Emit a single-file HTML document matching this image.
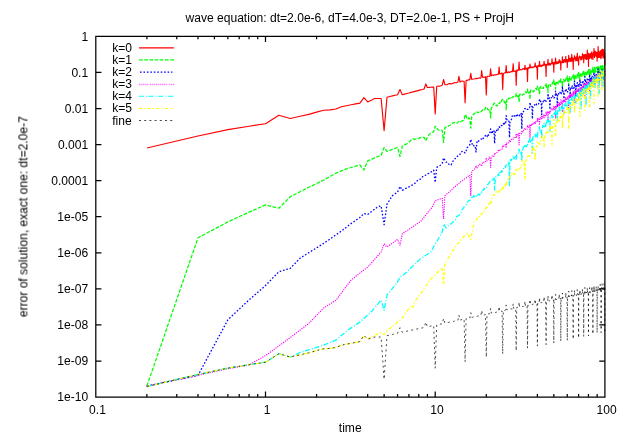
<!DOCTYPE html>
<html><head><meta charset="utf-8"><title>wave equation error plot</title>
<style>html,body{margin:0;padding:0;background:#fff;}body{width:623px;height:436px;overflow:hidden;position:relative;font-family:"Liberation Sans",sans-serif;}</style>
</head><body>
<svg width="623" height="436" viewBox="0 0 623 436" style="position:absolute;left:0;top:0">
<defs><filter id="soft" x="0" y="0" width="623" height="436" filterUnits="userSpaceOnUse" color-interpolation-filters="sRGB"><feConvolveMatrix order="3" kernelMatrix="0.025 0.1 0.025 0.1 0.5 0.1 0.025 0.1 0.025" edgeMode="none" preserveAlpha="false"/></filter><filter id="txt" x="0" y="0" width="623" height="436" filterUnits="userSpaceOnUse" color-interpolation-filters="sRGB"><feOffset dx="0" dy="0"/></filter></defs>
<rect width="623" height="436" fill="#fff"/>
<path d="M605.5 36.35 L95.8 36.35 L95.8 397.1 L605.5 397.1 M146.88 397.1 v-3.0 M146.88 36.35 v3.0 M176.77 397.1 v-3.0 M176.77 36.35 v3.0 M197.97 397.1 v-3.0 M197.97 36.35 v3.0 M214.42 397.1 v-3.0 M214.42 36.35 v3.0 M227.85 397.1 v-3.0 M227.85 36.35 v3.0 M239.21 397.1 v-3.0 M239.21 36.35 v3.0 M249.05 397.1 v-3.0 M249.05 36.35 v3.0 M257.73 397.1 v-3.0 M257.73 36.35 v3.0 M265.50 397.1 v-5.6 M265.50 36.35 v5.6 M316.58 397.1 v-3.0 M316.58 36.35 v3.0 M346.47 397.1 v-3.0 M346.47 36.35 v3.0 M367.67 397.1 v-3.0 M367.67 36.35 v3.0 M384.12 397.1 v-3.0 M384.12 36.35 v3.0 M397.55 397.1 v-3.0 M397.55 36.35 v3.0 M408.91 397.1 v-3.0 M408.91 36.35 v3.0 M418.75 397.1 v-3.0 M418.75 36.35 v3.0 M427.43 397.1 v-3.0 M427.43 36.35 v3.0 M435.20 397.1 v-5.6 M435.20 36.35 v5.6 M486.28 397.1 v-3.0 M486.28 36.35 v3.0 M516.17 397.1 v-3.0 M516.17 36.35 v3.0 M537.37 397.1 v-3.0 M537.37 36.35 v3.0 M553.82 397.1 v-3.0 M553.82 36.35 v3.0 M567.25 397.1 v-3.0 M567.25 36.35 v3.0 M578.61 397.1 v-3.0 M578.61 36.35 v3.0 M588.45 397.1 v-3.0 M588.45 36.35 v3.0 M597.13 397.1 v-3.0 M597.13 36.35 v3.0 M95.8 72.43 h5.6 M604.9 72.43 h-5.6 M95.8 108.50 h5.6 M604.9 108.50 h-5.6 M95.8 144.58 h5.6 M604.9 144.58 h-5.6 M95.8 180.65 h5.6 M604.9 180.65 h-5.6 M95.8 216.72 h5.6 M604.9 216.72 h-5.6 M95.8 252.80 h5.6 M604.9 252.80 h-5.6 M95.8 288.88 h5.6 M604.9 288.88 h-5.6 M95.8 324.95 h5.6 M604.9 324.95 h-5.6 M95.8 361.03 h5.6 M604.9 361.03 h-5.6" fill="none" stroke="#000" stroke-width="1.25"/>
<g fill="none" stroke-linejoin="round" stroke-linecap="butt">
<path d="M146.9 148.0 L198.0 136.0 L227.9 129.6 L249.1 126.2 L265.5 123.7 L278.9 115.2 L290.3 118.5 L300.1 116.3 L308.8 114.4 L316.6 112.1 L323.6 110.3 L330.0 109.9 L335.9 109.0 L341.4 106.7 L346.5 105.7 L351.2 104.8 L355.7 103.9 L359.9 103.1 L363.9 97.7 L367.7 101.9 L371.3 100.2 L374.7 98.5 L378.0 98.5 L381.1 98.5 L384.1 130.6 L387.0 97.2 L389.8 96.5 L392.5 95.9 L395.1 95.3 L397.6 94.7 L400.0 89.5 L402.3 94.7 L404.6 94.1 L406.8 93.5 L408.9 93.0 L411.0 92.4 L413.0 91.9 L415.0 91.4 L416.9 90.9 L418.8 90.4 L420.6 89.9 L422.4 89.5 L424.1 89.0 L425.8 83.9 L427.4 87.5 L429.1 87.4 L430.6 87.2 L432.2 87.1 L433.7 87.0 L435.2 113.9 L436.7 86.5 L438.1 86.0 L439.5 86.2 L440.9 85.8 L442.2 85.2 L443.6 79.5 L444.9 84.8 L446.1 84.7 L447.4 84.6 L448.6 83.8 L449.9 83.6 L451.1 83.9 L452.2 83.4 L453.4 83.3 L454.5 82.6 L455.7 82.7 L456.8 82.6 L457.9 82.1 L458.9 76.4 L460.0 82.1 L461.0 81.3 L462.1 81.1 L463.1 81.3 L464.1 81.4 L465.1 102.8 L466.1 80.4 L467.0 80.4 L468.0 79.9 L468.9 79.9 L469.8 79.8 L470.8 73.4 L471.7 79.3 L472.6 79.2 L473.4 79.0 L474.3 79.0 L475.2 78.7 L476.0 78.3 L476.9 78.8 L477.7 78.4 L478.5 78.3 L479.3 77.8 L480.1 78.2 L480.9 78.0 L481.7 70.6 L482.5 77.2 L483.3 77.4 L484.0 77.2 L484.8 77.3 L485.5 76.7 L486.3 94.9 L487.0 76.6 L487.7 76.2 L488.5 76.3 L489.2 76.4 L489.9 76.2 L490.6 68.9 L491.3 75.7 L492.0 75.1 L492.6 75.1 L493.3 75.5 L494.0 75.0 L494.6 74.7 L495.3 74.9 L495.9 74.9 L496.6 74.7 L497.2 74.3 L497.9 74.3 L498.5 74.2 L499.1 67.1 L499.7 74.0 L500.3 73.7 L500.9 73.7 L501.5 73.1 L502.1 73.0 L502.7 89.5 L503.3 73.7 L503.9 73.2 L504.5 72.9 L505.1 72.5 L505.6 72.8 L506.2 65.6 L506.7 72.8 L507.3 72.5 L507.9 72.7 L508.4 71.9 L508.9 72.1 L509.5 72.5 L510.0 72.0 L510.6 71.7 L511.1 71.4 L511.6 71.6 L512.1 72.0 L512.6 70.8 L513.2 63.7 L513.7 71.5 L514.2 71.5 L514.7 71.2 L515.2 71.2 L515.7 70.8 L516.2 85.3 L516.7 70.5 L517.1 69.9 L517.6 70.8 L518.1 70.4 L518.6 69.8 L519.1 62.1 L519.5 70.0 L520.0 69.7 L520.5 69.6 L520.9 69.8 L521.4 69.8 L521.8 69.7 L522.3 69.4 L522.7 68.7 L523.2 68.9 L523.6 68.7 L524.1 69.2 L524.5 69.5 L525.0 65.3 L525.4 69.2 L525.8 69.2 L526.3 68.3 L526.7 69.1 L527.1 68.7 L527.5 81.4 L527.9 67.6 L528.4 67.5 L528.8 68.5 L529.2 67.7 L529.6 67.4 L530.0 64.1 L530.4 67.6 L530.8 67.1 L531.2 67.1 L531.6 67.6 L532.0 67.0 L532.4 67.1 L532.8 67.7 L533.2 67.2 L533.6 66.9 L534.0 67.1 L534.4 66.3 L534.7 66.8 L535.1 62.8 L535.5 66.3 L535.9 66.1 L536.3 67.3 L536.6 66.6 L537.0 66.0 L537.4 79.1 L537.7 66.9 L538.1 65.5 L538.5 65.4 L538.8 65.5 L539.2 66.5 L539.5 61.4 L539.9 66.3 L540.3 66.2 L540.6 65.9 L541.0 65.2 L541.3 66.6 L541.7 66.2 L542.0 65.6 L542.4 64.9 L542.7 65.7 L543.0 65.1 L543.4 65.4 L543.7 64.8 L544.1 61.4 L544.4 64.2 L544.7 64.6 L545.1 65.9 L545.4 65.6 L545.7 64.4 L546.1 76.5 L546.4 64.3 L546.7 65.5 L547.0 65.0 L547.3 64.3 L547.7 63.9 L548.0 59.3 L548.3 65.1 L548.6 63.2 L548.9 64.9 L549.3 65.1 L549.6 64.2 L549.9 63.2 L550.2 64.7 L550.5 64.9 L550.8 64.2 L551.1 63.7 L551.4 63.4 L551.7 63.2 L552.0 58.8 L552.3 63.9 L552.6 63.2 L552.9 62.6 L553.2 62.3 L553.5 63.6 L553.8 72.2 L554.1 63.1 L554.4 62.6 L554.7 63.9 L555.0 64.0 L555.3 61.6 L555.6 58.0 L555.9 62.3 L556.1 64.0 L556.4 63.4 L556.7 62.2 L557.0 61.8 L557.3 63.0 L557.6 63.4 L557.8 63.6 L558.1 61.9 L558.4 63.3 L558.7 62.7 L558.9 62.1 L559.2 59.5 L559.5 61.3 L559.8 62.6 L560.0 60.7 L560.3 60.9 L560.6 63.0 L560.8 69.9 L561.1 62.5 L561.4 62.0 L561.6 62.6 L561.9 61.2 L562.2 61.0 L562.4 56.8 L562.7 62.6 L563.0 61.7 L563.2 62.7 L563.5 62.5 L563.7 60.0 L564.0 61.3 L564.2 59.8 L564.5 59.5 L564.8 59.6 L565.0 62.2 L565.3 61.9 L565.5 61.9 L565.8 56.3 L566.0 61.1 L566.3 61.7 L566.5 60.2 L566.8 60.8 L567.0 59.6 L567.3 67.5 L567.5 59.6 L567.7 61.8 L568.0 60.6 L568.2 61.8 L568.5 60.1 L568.7 55.4 L569.0 61.2 L569.2 61.3 L569.4 58.3 L569.7 60.7 L569.9 58.4 L570.1 58.5 L570.4 61.3 L570.6 58.1 L570.8 58.8 L571.1 61.6 L571.3 59.4 L571.5 58.1 L571.8 54.3 L572.0 58.5 L572.2 60.5 L572.5 57.9 L572.7 61.1 L572.9 58.9 L573.2 69.5 L573.4 61.0 L573.6 58.4 L573.8 58.2 L574.1 59.0 L574.3 57.4 L574.5 55.7 L574.7 57.0 L574.9 56.9 L575.2 61.0 L575.4 58.0 L575.6 59.3 L575.8 58.6 L576.0 57.9 L576.3 56.8 L576.5 60.5 L576.7 60.7 L576.9 60.7 L577.1 56.8 L577.3 53.2 L577.6 59.0 L577.8 60.6 L578.0 58.6 L578.2 59.2 L578.4 59.0 L578.6 65.1 L578.8 58.4 L579.0 57.2 L579.2 56.9 L579.5 56.0 L579.7 57.0 L579.9 56.4 L580.1 57.7 L580.3 58.7 L580.5 58.6 L580.7 60.0 L580.9 57.2 L581.1 56.8 L581.3 56.8 L581.5 56.7 L581.7 59.4 L581.9 59.6 L582.1 56.5 L582.3 56.6 L582.5 53.7 L582.7 57.8 L582.9 57.9 L583.1 56.0 L583.3 54.7 L583.5 55.9 L583.7 62.7 L583.9 57.5 L584.1 54.8 L584.3 54.8 L584.5 57.8 L584.7 55.9 L584.9 54.6 L585.1 56.9 L585.3 59.0 L585.4 54.9 L585.6 56.8 L585.8 58.5 L586.0 54.3 L586.2 59.3 L586.4 54.8 L586.6 58.3 L586.8 59.5 L587.0 58.5 L587.2 55.5 L587.3 50.1 L587.5 56.5 L587.7 59.0 L587.9 55.1 L588.1 58.8 L588.3 54.1 L588.5 66.5 L588.6 53.3 L588.8 55.0 L589.0 58.7 L589.2 58.1 L589.4 58.7 L589.6 54.2 L589.7 57.6 L589.9 57.2 L590.1 53.8 L590.3 55.5 L590.5 53.6 L590.6 57.3 L590.8 56.9 L591.0 54.1 L591.2 52.8 L591.3 58.8 L591.5 57.8 L591.7 56.0 L591.9 51.9 L592.1 58.0 L592.2 55.2 L592.4 54.8 L592.6 54.3 L592.7 53.7 L592.9 59.5 L593.1 56.4 L593.3 54.7 L593.4 55.8 L593.6 52.1 L593.8 54.2 L594.0 48.5 L594.1 52.4 L594.3 53.3 L594.5 57.5 L594.6 54.3 L594.8 54.3 L595.0 55.8 L595.1 52.9 L595.3 51.2 L595.5 55.1 L595.6 54.8 L595.8 56.0 L596.0 54.3 L596.1 52.2 L596.3 56.5 L596.5 52.6 L596.6 54.6 L596.8 54.4 L597.0 52.4 L597.1 61.2 L597.3 55.0 L597.5 57.8 L597.6 57.8 L597.8 52.6 L597.9 55.6 L598.1 46.6 L598.3 50.8 L598.4 54.4 L598.6 57.4 L598.8 51.4 L598.9 56.4 L599.1 57.4 L599.2 52.5 L599.4 55.7 L599.6 57.1 L599.7 52.9 L599.9 55.7 L600.0 56.0 L600.2 50.8 L600.3 57.0 L600.5 57.4 L600.7 57.9 L600.8 54.4 L601.0 50.9 L601.1 58.7 L601.3 51.2 L601.4 54.3 L601.6 56.0 L601.7 49.5 L601.9 55.3 L602.0 51.6 L602.2 52.1 L602.4 53.6 L602.5 50.4 L602.7 55.6 L602.8 49.1 L603.0 57.9 L603.1 56.3 L603.3 54.6 L603.4 51.1 L603.6 57.2 L603.7 57.7 L603.9 49.7 L604.0 51.9 L604.2 56.5 L604.3 54.7 L604.5 55.1 L604.6 52.5 L604.8 57.3 L604.9 64.7" stroke="#ff0000" stroke-width="1.15"/>
<path d="M146.9 386.0 L198.0 237.8 L227.9 221.9 L249.1 212.1 L265.5 204.9 L278.9 208.2 L290.3 196.7 L300.1 191.7 L308.8 187.3 L316.6 183.5 L323.6 180.1 L330.0 176.5 L335.9 173.2 L341.4 170.9 L346.5 168.8 L351.2 167.5 L355.7 166.2 L359.9 165.0 L363.9 169.9 L367.7 160.9 L371.3 159.4 L374.7 157.9 L378.0 156.5 L381.1 155.2 L384.1 147.5 L387.0 151.4 L389.8 150.4 L392.5 149.4 L395.1 148.4 L397.6 147.5 L400.0 156.5 L402.3 146.2 L404.6 144.7 L406.8 143.8 L408.9 142.4 L411.0 140.1 L413.0 138.9 L415.0 139.3 L416.9 138.8 L418.8 138.4 L420.6 137.6 L422.4 137.7 L424.1 137.3 L425.8 140.7 L427.4 137.2 L429.1 134.6 L430.6 133.3 L432.2 132.5 L433.7 131.7 L435.2 126.1 L436.7 127.8 L438.1 129.9 L439.5 130.0 L440.9 130.0 L442.2 130.3 L443.6 142.4 L444.9 127.7 L446.1 127.1 L447.4 127.1 L448.6 125.8 L449.9 125.2 L451.1 124.0 L452.2 122.9 L453.4 123.1 L454.5 122.5 L455.7 122.7 L456.8 123.3 L457.9 122.4 L458.9 121.3 L460.0 122.2 L461.0 121.5 L462.1 120.9 L463.1 120.7 L464.1 120.0 L465.1 114.5 L466.1 115.7 L467.0 118.8 L468.0 119.0 L468.9 117.7 L469.8 119.0 L470.8 128.2 L471.7 116.9 L472.6 115.7 L473.4 114.4 L474.3 113.9 L475.2 112.8 L476.0 113.2 L476.9 111.9 L477.7 112.7 L478.5 112.5 L479.3 111.3 L480.1 111.2 L480.9 111.7 L481.7 111.0 L482.5 110.3 L483.3 109.5 L484.0 109.4 L484.8 109.9 L485.5 107.3 L486.3 107.3 L487.0 107.2 L487.7 109.7 L488.5 109.6 L489.2 110.7 L489.9 109.9 L490.6 117.9 L491.3 108.0 L492.0 107.3 L492.6 106.1 L493.3 104.6 L494.0 103.4 L494.6 103.0 L495.3 104.9 L495.9 105.3 L496.6 105.2 L497.2 106.1 L497.9 105.3 L498.5 105.1 L499.1 103.1 L499.7 103.6 L500.3 101.7 L500.9 102.4 L501.5 101.0 L502.1 99.5 L502.7 99.4 L503.3 99.0 L503.9 100.9 L504.5 102.7 L505.1 101.2 L505.6 100.9 L506.2 109.8 L506.7 99.8 L507.3 100.2 L507.9 98.7 L508.4 99.1 L508.9 98.4 L509.5 98.4 L510.0 98.0 L510.6 98.8 L511.1 98.6 L511.6 98.6 L512.1 97.3 L512.6 96.9 L513.2 97.2 L513.7 96.6 L514.2 95.9 L514.7 95.7 L515.2 95.9 L515.7 96.3 L516.2 93.4 L516.7 96.0 L517.1 96.0 L517.6 96.5 L518.1 96.6 L518.6 95.7 L519.1 102.2 L519.5 94.4 L520.0 94.3 L520.5 94.2 L520.9 93.8 L521.4 93.9 L521.8 94.8 L522.3 95.1 L522.7 94.9 L523.2 94.4 L523.6 94.3 L524.1 94.2 L524.5 93.8 L525.0 92.5 L525.4 91.9 L525.8 92.4 L526.3 92.8 L526.7 91.9 L527.1 92.0 L527.5 89.0 L527.9 93.3 L528.4 93.0 L528.8 92.8 L529.2 92.0 L529.6 92.3 L530.0 99.2 L530.4 90.5 L530.8 90.1 L531.2 90.0 L531.6 90.5 L532.0 90.5 L532.4 90.3 L532.8 90.5 L533.2 91.7 L533.6 91.8 L534.0 91.4 L534.4 90.5 L534.7 90.4 L535.1 89.8 L535.5 89.3 L535.9 88.2 L536.3 88.4 L536.6 89.2 L537.0 89.8 L537.4 86.1 L537.7 89.1 L538.1 89.7 L538.5 90.2 L538.8 89.3 L539.2 88.2 L539.5 94.9 L539.9 87.7 L540.3 88.0 L540.6 86.9 L541.0 86.4 L541.3 87.1 L541.7 88.1 L542.0 88.2 L542.4 88.0 L542.7 88.0 L543.0 88.3 L543.4 88.4 L543.7 86.9 L544.1 86.4 L544.4 86.4 L544.7 86.5 L545.1 86.0 L545.4 85.5 L545.7 85.9 L546.1 83.0 L546.4 87.4 L546.7 87.1 L547.0 86.2 L547.3 86.2 L547.7 86.9 L548.0 92.4 L548.3 84.5 L548.6 84.5 L548.9 84.7 L549.3 84.8 L549.6 85.1 L549.9 84.5 L550.2 85.0 L550.5 86.5 L550.8 85.8 L551.1 85.0 L551.4 85.0 L551.7 85.0 L552.0 84.1 L552.3 83.3 L552.6 82.4 L552.9 82.9 L553.2 83.6 L553.5 84.1 L553.8 79.8 L554.1 83.9 L554.4 84.9 L554.7 85.6 L555.0 83.8 L555.3 83.3 L555.6 89.0 L555.9 83.0 L556.1 82.2 L556.4 81.3 L556.7 81.7 L557.0 82.4 L557.3 82.9 L557.6 82.7 L557.8 82.5 L558.1 83.8 L558.4 84.1 L558.7 83.6 L558.9 81.9 L559.2 80.6 L559.5 81.4 L559.8 81.5 L560.0 80.7 L560.3 80.2 L560.6 81.1 L560.8 78.9 L561.1 82.9 L561.4 81.8 L561.6 81.9 L561.9 82.3 L562.2 82.5 L562.4 87.0 L562.7 79.9 L563.0 79.9 L563.2 79.9 L563.5 79.7 L563.7 79.5 L564.0 79.7 L564.2 81.3 L564.5 82.2 L564.8 81.8 L565.0 80.7 L565.3 80.9 L565.5 80.3 L565.8 79.5 L566.0 78.7 L566.3 77.5 L566.5 78.7 L566.8 78.9 L567.0 78.6 L567.3 76.0 L567.5 80.6 L567.7 81.3 L568.0 80.4 L568.2 79.3 L568.5 78.6 L568.7 84.9 L569.0 78.9 L569.2 77.3 L569.4 76.6 L569.7 76.9 L569.9 78.6 L570.1 79.4 L570.4 78.8 L570.6 78.5 L570.8 80.0 L571.1 80.3 L571.3 78.4 L571.5 77.8 L571.8 77.1 L572.0 77.6 L572.2 76.6 L572.5 76.3 L572.7 76.4 L572.9 77.7 L573.2 74.7 L573.4 78.2 L573.6 77.4 L573.8 78.6 L574.1 79.4 L574.3 77.6 L574.5 81.6 L574.7 75.4 L574.9 75.8 L575.2 76.3 L575.4 75.9 L575.6 75.5 L575.8 76.5 L576.0 78.5 L576.3 77.9 L576.5 77.5 L576.7 77.2 L576.9 77.7 L577.1 77.4 L577.3 75.0 L577.6 74.1 L577.8 74.2 L578.0 75.4 L578.2 75.8 L578.4 75.0 L578.6 71.4 L578.8 77.0 L579.0 78.0 L579.2 77.3 L579.5 75.9 L579.7 76.0 L579.9 80.2 L580.1 75.2 L580.3 73.3 L580.5 73.0 L580.7 74.6 L580.9 75.5 L581.1 74.3 L581.3 75.1 L581.5 76.3 L581.7 76.6 L581.9 76.7 L582.1 74.8 L582.3 73.5 L582.5 74.5 L582.7 73.3 L582.9 72.6 L583.1 71.7 L583.3 72.6 L583.5 74.6 L583.7 71.4 L583.9 74.0 L584.1 75.4 L584.3 75.2 L584.5 75.1 L584.7 74.0 L584.9 77.6 L585.1 72.5 L585.3 73.1 L585.4 72.2 L585.6 71.5 L585.8 71.6 L586.0 73.4 L586.2 74.9 L586.4 73.8 L586.6 73.2 L586.8 74.6 L587.0 74.2 L587.2 73.8 L587.3 71.8 L587.5 70.5 L587.7 71.6 L587.9 72.2 L588.1 71.8 L588.3 70.7 L588.5 68.8 L588.6 74.3 L588.8 74.4 L589.0 72.9 L589.2 72.0 L589.4 73.2 L589.6 77.7 L589.7 70.5 L589.9 69.4 L590.1 69.8 L590.3 71.2 L590.5 72.0 L590.6 70.8 L590.8 72.0 L591.0 73.6 L591.2 74.3 L591.3 73.5 L591.5 70.8 L591.7 71.8 L591.9 71.2 L592.1 70.5 L592.2 69.1 L592.4 68.9 L592.6 70.2 L592.7 72.1 L592.9 67.2 L593.1 71.4 L593.3 72.3 L593.4 73.5 L593.6 73.1 L593.8 71.0 L594.0 73.8 L594.1 69.6 L594.3 69.3 L594.5 68.3 L594.6 67.4 L594.8 69.0 L595.0 72.0 L595.1 71.1 L595.3 71.5 L595.5 71.0 L595.6 72.0 L595.8 71.7 L596.0 69.3 L596.1 68.0 L596.3 67.6 L596.5 68.7 L596.6 68.1 L596.8 68.2 L597.0 69.1 L597.1 67.0 L597.3 72.1 L597.5 71.8 L597.6 70.0 L597.8 70.0 L597.9 70.5 L598.1 72.9 L598.3 67.4 L598.4 66.3 L598.6 67.4 L598.8 68.9 L598.9 67.5 L599.1 68.4 L599.2 69.9 L599.4 71.4 L599.6 71.8 L599.7 69.4 L599.9 69.5 L600.0 70.0 L600.2 68.7 L600.3 67.0 L600.5 66.1 L600.7 66.7 L600.8 68.5 L601.0 69.1 L601.1 65.2 L601.3 69.2 L601.4 71.5 L601.6 70.8 L601.7 69.6 L601.9 67.8 L602.0 71.1 L602.2 67.4 L602.4 65.9 L602.5 65.6 L602.7 64.9 L602.8 67.3 L603.0 69.5 L603.1 68.0 L603.3 69.0 L603.4 68.8 L603.6 69.6 L603.7 68.9 L603.9 66.4 L604.0 66.2 L604.2 66.7 L604.3 66.6 L604.5 64.8 L604.6 64.6 L604.8 65.9 L604.9 65.8" stroke="#00ff00" stroke-width="1.25" stroke-dasharray="3.7 1.5"/>
<path d="M146.9 386.0 L198.0 375.4 L227.9 319.7 L249.1 299.9 L265.5 285.5 L278.9 271.7 L290.3 268.3 L300.1 258.1 L308.8 252.7 L316.6 247.8 L323.6 243.4 L330.0 239.0 L335.9 234.9 L341.4 231.1 L346.5 227.1 L351.2 223.4 L355.7 220.4 L359.9 217.5 L363.9 213.6 L367.7 214.4 L371.3 211.7 L374.7 209.1 L378.0 206.7 L381.1 205.9 L384.1 224.7 L387.0 204.1 L389.8 199.8 L392.5 195.6 L395.1 193.8 L397.6 192.0 L400.0 186.5 L402.3 190.4 L404.6 189.2 L406.8 187.8 L408.9 186.9 L411.0 185.6 L413.0 184.8 L415.0 183.3 L416.9 181.1 L418.8 179.5 L420.6 179.1 L422.4 176.9 L424.1 175.5 L425.8 175.1 L427.4 173.6 L429.1 173.3 L430.6 172.1 L432.2 171.5 L433.7 170.1 L435.2 182.4 L436.7 167.6 L438.1 166.3 L439.5 165.8 L440.9 165.0 L442.2 163.3 L443.6 157.9 L444.9 160.2 L446.1 162.2 L447.4 162.2 L448.6 164.2 L449.9 164.0 L451.1 164.9 L452.2 162.9 L453.4 160.4 L454.5 159.7 L455.7 157.6 L456.8 157.3 L457.9 155.6 L458.9 155.5 L460.0 154.4 L461.0 152.1 L462.1 151.5 L463.1 151.0 L464.1 152.0 L465.1 152.9 L466.1 150.8 L467.0 147.6 L468.0 147.0 L468.9 145.7 L469.8 144.7 L470.8 139.3 L471.7 142.2 L472.6 145.9 L473.4 145.4 L474.3 146.0 L475.2 145.9 L476.0 151.9 L476.9 142.4 L477.7 140.2 L478.5 141.0 L479.3 140.8 L480.1 140.3 L480.9 139.1 L481.7 139.0 L482.5 137.4 L483.3 138.5 L484.0 137.5 L484.8 136.4 L485.5 135.5 L486.3 137.0 L487.0 136.8 L487.7 134.1 L488.5 135.3 L489.2 133.8 L489.9 132.7 L490.6 129.0 L491.3 131.9 L492.0 133.9 L492.6 131.6 L493.3 132.6 L494.0 130.9 L494.6 143.5 L495.3 130.6 L495.9 131.2 L496.6 130.7 L497.2 129.0 L497.9 129.8 L498.5 127.6 L499.1 126.6 L499.7 127.4 L500.3 125.6 L500.9 125.5 L501.5 125.6 L502.1 125.6 L502.7 124.1 L503.3 123.4 L503.9 125.0 L504.5 123.2 L505.1 124.3 L505.6 123.8 L506.2 115.7 L506.7 118.4 L507.3 121.0 L507.9 121.3 L508.4 121.2 L508.9 121.1 L509.5 137.5 L510.0 122.1 L510.6 120.5 L511.1 119.8 L511.6 119.0 L512.1 116.4 L512.6 115.1 L513.2 115.2 L513.7 115.1 L514.2 116.2 L514.7 115.8 L515.2 116.6 L515.7 116.9 L516.2 115.4 L516.7 116.6 L517.1 116.5 L517.6 115.0 L518.1 116.2 L518.6 115.7 L519.1 116.0 L519.5 115.1 L520.0 115.8 L520.5 115.7 L520.9 113.9 L521.4 113.4 L521.8 128.9 L522.3 114.6 L522.7 112.7 L523.2 112.9 L523.6 111.0 L524.1 110.1 L524.5 109.0 L525.0 108.5 L525.4 108.8 L525.8 109.1 L526.3 108.6 L526.7 108.5 L527.1 109.3 L527.5 109.3 L527.9 109.4 L528.4 108.7 L528.8 107.9 L529.2 107.8 L529.6 107.8 L530.0 102.4 L530.4 105.7 L530.8 106.1 L531.2 106.8 L531.6 106.4 L532.0 106.3 L532.4 118.8 L532.8 107.4 L533.2 107.1 L533.6 106.5 L534.0 105.1 L534.4 104.9 L534.7 105.1 L535.1 104.7 L535.5 103.5 L535.9 103.3 L536.3 104.0 L536.6 104.8 L537.0 104.3 L537.4 104.5 L537.7 104.8 L538.1 104.6 L538.5 104.0 L538.8 103.2 L539.2 102.4 L539.5 98.6 L539.9 102.2 L540.3 101.4 L540.6 101.2 L541.0 102.2 L541.3 102.7 L541.7 114.6 L542.0 102.3 L542.4 102.1 L542.7 102.3 L543.0 102.4 L543.4 100.6 L543.7 99.4 L544.1 100.1 L544.4 100.5 L544.7 100.4 L545.1 99.5 L545.4 100.2 L545.7 101.2 L546.1 101.1 L546.4 100.9 L546.7 100.2 L547.0 100.0 L547.3 99.8 L547.7 98.8 L548.0 93.6 L548.3 97.2 L548.6 97.7 L548.9 98.5 L549.3 98.0 L549.6 98.3 L549.9 109.5 L550.2 99.8 L550.5 99.3 L550.8 98.4 L551.1 97.7 L551.4 97.8 L551.7 97.2 L552.0 95.6 L552.3 95.6 L552.6 95.6 L552.9 96.6 L553.2 97.1 L553.5 96.6 L553.8 96.7 L554.1 97.9 L554.4 97.6 L554.7 96.2 L555.0 95.0 L555.3 95.3 L555.6 91.1 L555.9 94.8 L556.1 93.6 L556.4 93.7 L556.7 95.1 L557.0 96.0 L557.3 105.6 L557.6 95.3 L557.8 95.7 L558.1 95.9 L558.4 95.1 L558.7 92.9 L558.9 92.8 L559.2 93.3 L559.5 92.7 L559.8 92.3 L560.0 92.1 L560.3 93.3 L560.6 94.3 L560.8 94.4 L561.1 93.9 L561.4 92.8 L561.6 93.1 L561.9 92.8 L562.2 91.4 L562.4 86.3 L562.7 91.3 L563.0 91.9 L563.2 91.1 L563.5 91.1 L563.7 91.4 L564.0 102.4 L564.2 93.1 L564.5 92.5 L564.8 91.5 L565.0 91.1 L565.3 91.0 L565.5 90.2 L565.8 88.7 L566.0 88.9 L566.3 90.0 L566.5 90.4 L566.8 89.9 L567.0 89.9 L567.3 90.9 L567.5 91.9 L567.7 91.5 L568.0 89.7 L568.2 89.4 L568.5 89.3 L568.7 84.9 L569.0 87.8 L569.2 87.3 L569.4 88.3 L569.7 89.2 L569.9 89.8 L570.1 98.3 L570.4 89.0 L570.6 90.1 L570.8 90.1 L571.1 88.1 L571.3 87.1 L571.5 86.9 L571.8 87.7 L572.0 87.4 L572.2 86.0 L572.5 86.9 L572.7 88.3 L572.9 88.6 L573.2 88.3 L573.4 87.4 L573.6 88.4 L573.8 88.5 L574.1 87.7 L574.3 85.9 L574.5 81.1 L574.7 85.8 L574.9 86.0 L575.2 85.0 L575.4 85.4 L575.6 85.9 L575.8 95.9 L576.0 88.0 L576.3 86.1 L576.5 85.7 L576.7 85.9 L576.9 86.4 L577.1 84.1 L577.3 82.7 L577.6 84.1 L577.8 84.3 L578.0 85.3 L578.2 84.7 L578.4 85.4 L578.6 86.9 L578.8 86.9 L579.0 86.0 L579.2 83.9 L579.5 84.5 L579.7 84.3 L579.9 79.6 L580.1 81.6 L580.3 82.3 L580.5 83.8 L580.7 83.8 L580.9 83.9 L581.1 91.9 L581.3 85.1 L581.5 85.2 L581.7 84.4 L581.9 82.7 L582.1 82.3 L582.3 82.7 L582.5 82.2 L582.7 81.1 L582.9 80.6 L583.1 81.7 L583.3 83.3 L583.5 83.2 L583.7 83.1 L583.9 83.7 L584.1 83.8 L584.3 84.0 L584.5 81.5 L584.7 80.6 L584.9 76.7 L585.1 81.2 L585.3 80.7 L585.4 80.0 L585.6 80.7 L585.8 82.8 L586.0 90.0 L586.2 82.1 L586.4 82.1 L586.6 82.5 L586.8 82.2 L587.0 80.9 L587.2 79.4 L587.3 78.1 L587.5 79.1 L587.7 79.7 L587.9 79.8 L588.1 79.4 L588.3 80.6 L588.5 82.6 L588.6 82.7 L588.8 80.5 L589.0 80.3 L589.2 80.1 L589.4 80.3 L589.6 74.3 L589.7 76.8 L589.9 77.4 L590.1 78.6 L590.3 79.5 L590.5 79.0 L590.6 85.8 L590.8 80.9 L591.0 81.2 L591.2 80.3 L591.3 77.9 L591.5 78.8 L591.7 78.3 L591.9 77.6 L592.1 76.1 L592.2 76.8 L592.4 78.5 L592.6 79.3 L592.7 79.0 L592.9 79.0 L593.1 80.0 L593.3 80.1 L593.4 79.5 L593.6 77.8 L593.8 76.1 L594.0 72.2 L594.1 76.3 L594.3 76.0 L594.5 75.6 L594.6 77.4 L594.8 79.1 L595.0 84.5 L595.1 77.6 L595.3 77.6 L595.5 78.1 L595.6 78.5 L595.8 76.7 L596.0 75.1 L596.1 74.4 L596.3 76.1 L596.5 75.3 L596.6 74.8 L596.8 76.0 L597.0 77.0 L597.1 78.0 L597.3 78.2 L597.5 76.3 L597.6 76.4 L597.8 76.9 L597.9 75.7 L598.1 68.7 L598.3 72.8 L598.4 74.2 L598.6 75.2 L598.8 74.5 L598.9 75.1 L599.1 82.9 L599.2 77.7 L599.4 77.4 L599.6 75.0 L599.7 74.3 L599.9 75.1 L600.0 73.9 L600.2 73.4 L600.3 72.4 L600.5 72.2 L600.7 75.3 L600.8 74.9 L601.0 75.1 L601.1 75.5 L601.3 76.2 L601.4 77.0 L601.6 75.1 L601.7 73.5 L601.9 72.4 L602.0 69.6 L602.2 73.1 L602.4 71.4 L602.5 71.7 L602.7 73.1 L602.8 75.1 L603.0 80.3 L603.1 74.5 L603.3 75.2 L603.4 75.6 L603.6 73.7 L603.7 72.1 L603.9 71.1 L604.0 71.0 L604.2 72.5 L604.3 71.3 L604.5 70.3 L604.6 73.3 L604.8 74.1 L604.9 74.6" stroke="#0000ff" stroke-width="1.3" stroke-dasharray="1.6 1.85"/>
<path stroke-linecap="round" d="M146.9 386.0 L198.0 375.4 L227.9 368.7 L249.1 364.9 L265.5 355.6 L278.9 345.9 L290.3 337.6 L300.1 330.1 L308.8 323.4 L316.6 315.3 L323.6 308.0 L330.0 304.0 L335.9 300.3 L341.4 293.0 L346.5 286.2 L351.2 279.9 L355.7 276.4 L359.9 273.1 L363.9 270.0 L367.7 267.0 L371.3 263.0 L374.7 259.2 L378.0 255.5 L381.1 252.0 L384.1 243.9 L387.0 247.0 L389.8 245.0 L392.5 243.0 L395.1 241.1 L397.6 239.3 L400.0 245.2 L402.3 233.7 L404.6 232.2 L406.8 230.8 L408.9 229.4 L411.0 228.0 L413.0 226.6 L415.0 225.3 L416.9 223.9 L418.8 222.7 L420.6 221.4 L422.4 219.2 L424.1 217.1 L425.8 215.0 L427.4 213.0 L429.1 211.0 L430.6 209.1 L432.2 207.2 L433.7 204.0 L435.2 200.8 L436.7 200.3 L438.1 199.7 L439.5 199.2 L440.9 198.7 L442.2 198.2 L443.6 218.8 L444.9 195.7 L446.1 194.6 L447.4 193.5 L448.6 192.4 L449.9 191.3 L451.1 190.2 L452.2 189.2 L453.4 188.1 L454.5 187.1 L455.7 186.1 L456.8 185.2 L457.9 184.2 L458.9 183.2 L460.0 182.3 L461.0 181.5 L462.1 180.8 L463.1 180.0 L464.1 179.3 L465.1 178.6 L466.1 177.9 L467.0 177.2 L468.0 176.5 L468.9 175.8 L469.8 175.1 L470.8 195.7 L471.7 171.3 L472.6 170.6 L473.4 169.9 L474.3 169.2 L475.2 168.7 L476.0 165.5 L476.9 168.0 L477.7 167.0 L478.5 165.4 L479.3 164.3 L480.1 164.2 L480.9 164.0 L481.7 166.4 L482.5 162.3 L483.3 162.1 L484.0 162.5 L484.8 162.5 L485.5 161.6 L486.3 157.7 L487.0 160.8 L487.7 160.4 L488.5 159.2 L489.2 157.3 L489.9 156.7 L490.6 167.4 L491.3 157.2 L492.0 156.4 L492.6 155.3 L493.3 156.0 L494.0 156.3 L494.6 152.9 L495.3 153.7 L495.9 153.1 L496.6 152.4 L497.2 152.3 L497.9 150.8 L498.5 149.5 L499.1 151.2 L499.7 150.0 L500.3 149.9 L500.9 149.2 L501.5 148.8 L502.1 149.0 L502.7 145.3 L503.3 147.2 L503.9 145.6 L504.5 145.3 L505.1 145.3 L505.6 143.7 L506.2 148.0 L506.7 142.6 L507.3 143.5 L507.9 143.6 L508.4 142.9 L508.9 142.8 L509.5 139.7 L510.0 142.3 L510.6 141.1 L511.1 139.8 L511.6 138.7 L512.1 138.8 L512.6 138.8 L513.2 139.2 L513.7 137.6 L514.2 137.6 L514.7 138.2 L515.2 138.1 L515.7 137.6 L516.2 133.6 L516.7 136.8 L517.1 136.2 L517.6 134.6 L518.1 133.6 L518.6 133.2 L519.1 144.9 L519.5 133.8 L520.0 133.0 L520.5 133.5 L520.9 133.5 L521.4 133.9 L521.8 131.0 L522.3 132.3 L522.7 131.8 L523.2 132.0 L523.6 130.6 L524.1 129.3 L524.5 128.5 L525.0 130.1 L525.4 129.2 L525.8 128.9 L526.3 129.2 L526.7 129.3 L527.1 129.4 L527.5 125.2 L527.9 127.5 L528.4 127.3 L528.8 126.8 L529.2 126.2 L529.6 124.8 L530.0 137.7 L530.4 124.7 L530.8 125.3 L531.2 125.3 L531.6 124.8 L532.0 125.4 L532.4 122.9 L532.8 125.0 L533.2 124.0 L533.6 122.5 L534.0 122.9 L534.4 122.1 L534.7 121.7 L535.1 124.3 L535.5 121.5 L535.9 122.1 L536.3 122.4 L536.6 121.9 L537.0 121.1 L537.4 118.1 L537.7 121.5 L538.1 120.9 L538.5 119.3 L538.8 118.3 L539.2 118.1 L539.5 125.1 L539.9 117.6 L540.3 117.4 L540.6 118.9 L541.0 119.1 L541.3 118.8 L541.7 116.1 L542.0 117.8 L542.4 118.3 L542.7 117.1 L543.0 116.1 L543.4 114.7 L543.7 115.1 L544.1 118.7 L544.4 114.8 L544.7 114.5 L545.1 115.5 L545.4 116.6 L545.7 116.7 L546.1 111.6 L546.4 114.3 L546.7 114.2 L547.0 113.9 L547.3 113.0 L547.7 111.4 L548.0 121.8 L548.3 111.9 L548.6 113.0 L548.9 112.7 L549.3 111.6 L549.6 113.2 L549.9 111.2 L550.2 112.6 L550.5 110.4 L550.8 110.5 L551.1 109.8 L551.4 110.2 L551.7 108.8 L552.0 108.0 L552.3 109.0 L552.6 110.0 L552.9 110.2 L553.2 109.8 L553.5 109.2 L553.8 106.0 L554.1 110.0 L554.4 107.5 L554.7 107.0 L555.0 106.1 L555.3 107.1 L555.6 118.1 L555.9 105.5 L556.1 106.3 L556.4 106.9 L556.7 107.9 L557.0 106.9 L557.3 104.3 L557.6 106.8 L557.8 106.5 L558.1 105.4 L558.4 103.2 L558.7 102.6 L558.9 103.8 L559.2 106.5 L559.5 103.5 L559.8 102.9 L560.0 104.2 L560.3 105.6 L560.6 105.0 L560.8 99.8 L561.1 103.6 L561.4 103.7 L561.6 102.3 L561.9 101.2 L562.2 100.0 L562.4 112.0 L562.7 101.3 L563.0 101.5 L563.2 101.6 L563.5 101.2 L563.7 102.3 L564.0 100.4 L564.2 101.9 L564.5 100.2 L564.8 100.0 L565.0 100.4 L565.3 99.3 L565.5 97.2 L565.8 101.4 L566.0 98.8 L566.3 100.1 L566.5 99.3 L566.8 99.5 L567.0 99.5 L567.3 97.3 L567.5 99.0 L567.7 97.2 L568.0 96.8 L568.2 96.8 L568.5 96.8 L568.7 108.7 L569.0 94.9 L569.2 96.3 L569.4 97.9 L569.7 97.8 L569.9 97.4 L570.1 94.6 L570.4 97.1 L570.6 96.8 L570.8 95.7 L571.1 93.8 L571.3 94.3 L571.5 95.1 L571.8 97.2 L572.0 93.7 L572.2 93.9 L572.5 96.1 L572.7 96.2 L572.9 95.9 L573.2 90.9 L573.4 95.1 L573.6 95.0 L573.8 93.5 L574.1 91.6 L574.3 90.9 L574.5 103.4 L574.7 92.8 L574.9 91.8 L575.2 91.7 L575.4 93.0 L575.6 94.8 L575.8 91.1 L576.0 93.0 L576.3 91.7 L576.5 92.1 L576.7 91.3 L576.9 90.0 L577.1 88.5 L577.3 92.1 L577.6 90.6 L577.8 91.3 L578.0 90.5 L578.2 91.0 L578.4 91.7 L578.6 88.2 L578.8 91.3 L579.0 89.7 L579.2 89.5 L579.5 89.6 L579.7 88.9 L579.9 93.3 L580.1 87.6 L580.3 89.2 L580.5 90.5 L580.7 89.9 L580.9 89.8 L581.1 86.9 L581.3 90.5 L581.5 89.3 L581.7 87.5 L581.9 86.6 L582.1 87.3 L582.3 86.6 L582.5 90.0 L582.7 85.9 L582.9 87.6 L583.1 88.9 L583.3 88.4 L583.5 87.3 L583.7 83.8 L583.9 88.1 L584.1 88.0 L584.3 86.0 L584.5 84.0 L584.7 84.2 L584.9 96.7 L585.1 84.9 L585.3 83.9 L585.4 84.8 L585.6 86.9 L585.8 87.7 L586.0 84.1 L586.2 85.2 L586.4 85.9 L586.6 85.5 L586.8 83.6 L587.0 81.8 L587.2 82.8 L587.3 88.3 L587.5 84.2 L587.7 83.5 L587.9 83.2 L588.1 84.7 L588.3 85.7 L588.5 82.4 L588.6 84.2 L588.8 83.3 L589.0 82.6 L589.2 82.2 L589.4 80.8 L589.6 93.0 L589.7 81.9 L589.9 83.2 L590.1 83.3 L590.3 83.4 L590.5 82.9 L590.6 81.8 L590.8 83.6 L591.0 81.8 L591.2 80.1 L591.3 80.4 L591.5 80.4 L591.7 79.6 L591.9 83.4 L592.1 80.3 L592.2 81.9 L592.4 82.9 L592.6 82.3 L592.7 82.2 L592.9 79.1 L593.1 82.7 L593.3 81.1 L593.4 79.3 L593.6 78.6 L593.8 79.0 L594.0 87.8 L594.1 79.0 L594.3 78.4 L594.5 79.4 L594.6 81.1 L594.8 82.0 L595.0 77.4 L595.1 79.8 L595.3 80.5 L595.5 80.2 L595.6 77.5 L595.8 76.2 L596.0 76.8 L596.1 78.7 L596.3 77.4 L596.5 78.3 L596.6 78.0 L596.8 79.7 L597.0 81.1 L597.1 76.3 L597.3 77.6 L597.5 78.0 L597.6 77.9 L597.8 76.9 L597.9 74.5 L598.1 87.6 L598.3 76.8 L598.4 78.1 L598.6 77.8 L598.8 77.0 L598.9 78.9 L599.1 77.3 L599.2 78.5 L599.4 75.9 L599.6 75.7 L599.7 76.4 L599.9 75.2 L600.0 74.3 L600.2 77.7 L600.3 74.3 L600.5 76.9 L600.7 76.6 L600.8 76.9 L601.0 76.9 L601.1 73.8 L601.3 77.8 L601.4 75.4 L601.6 73.3 L601.7 74.0 L601.9 74.7 L602.0 86.6 L602.2 72.9 L602.4 73.8 L602.5 75.7 L602.7 76.6 L602.8 76.5 L603.0 72.4 L603.1 74.9 L603.3 76.0 L603.4 74.2 L603.6 72.1 L603.7 71.6 L603.9 72.0 L604.0 73.2 L604.2 72.7 L604.3 73.0 L604.5 74.4 L604.6 75.1 L604.8 76.1 L604.9 70.9" stroke="#ff00ff" stroke-width="1.3" stroke-dasharray="0.01 2.3"/>
<path d="M146.9 386.5 L198.0 374.5 L227.9 368.1 L249.1 364.7 L265.5 362.2 L278.9 353.7 L290.3 357.0 L300.1 352.5 L308.8 349.8 L316.6 347.4 L323.6 345.2 L330.0 342.5 L335.9 340.1 L341.4 335.4 L346.5 331.1 L351.2 327.9 L355.7 324.9 L359.9 322.1 L363.9 318.5 L367.7 315.1 L371.3 311.8 L374.7 307.7 L378.0 303.8 L381.1 300.0 L384.1 310.3 L387.0 295.0 L389.8 291.6 L392.5 288.3 L395.1 285.1 L397.6 282.0 L400.0 277.0 L402.3 275.5 L404.6 274.0 L406.8 271.9 L408.9 269.8 L411.0 267.8 L413.0 265.9 L415.0 264.0 L416.9 262.1 L418.8 260.4 L420.6 258.6 L422.4 257.5 L424.1 256.4 L425.8 255.3 L427.4 254.2 L429.1 253.2 L430.6 252.2 L432.2 249.5 L433.7 246.8 L435.2 244.2 L436.7 241.7 L438.1 239.2 L439.5 236.8 L440.9 234.4 L442.2 232.0 L443.6 224.0 L444.9 226.0 L446.1 228.0 L447.4 226.8 L448.6 225.5 L449.9 224.6 L451.1 223.7 L452.2 222.7 L453.4 221.9 L454.5 220.3 L455.7 219.6 L456.8 216.4 L457.9 215.9 L458.9 215.6 L460.0 213.4 L461.0 212.6 L462.1 209.3 L463.1 208.7 L464.1 206.8 L465.1 206.2 L466.1 204.9 L467.0 202.2 L468.0 201.4 L468.9 200.3 L469.8 200.5 L470.8 198.9 L471.7 196.2 L472.6 197.5 L473.4 195.8 L474.3 196.7 L475.2 195.3 L476.0 194.9 L476.9 196.8 L477.7 195.0 L478.5 194.1 L479.3 195.1 L480.1 194.0 L480.9 191.7 L481.7 192.5 L482.5 190.7 L483.3 190.2 L484.0 188.2 L484.8 189.2 L485.5 187.8 L486.3 187.6 L487.0 186.7 L487.7 184.5 L488.5 183.9 L489.2 182.6 L489.9 181.8 L490.6 180.9 L491.3 180.7 L492.0 180.7 L492.6 178.5 L493.3 179.4 L494.0 178.1 L494.6 190.0 L495.3 178.3 L495.9 176.9 L496.6 175.9 L497.2 175.8 L497.9 175.8 L498.5 173.7 L499.1 175.3 L499.7 172.5 L500.3 173.7 L500.9 173.4 L501.5 170.6 L502.1 171.7 L502.7 169.9 L503.3 169.6 L503.9 167.5 L504.5 166.8 L505.1 166.4 L505.6 167.5 L506.2 164.9 L506.7 165.5 L507.3 165.2 L507.9 164.5 L508.4 162.3 L508.9 161.7 L509.5 185.5 L510.0 161.7 L510.6 159.6 L511.1 160.7 L511.6 159.3 L512.1 159.0 L512.6 157.5 L513.2 155.8 L513.7 158.3 L514.2 158.7 L514.7 158.0 L515.2 157.2 L515.7 156.3 L516.2 160.4 L516.7 154.9 L517.1 153.4 L517.6 152.6 L518.1 152.8 L518.6 153.1 L519.1 149.1 L519.5 152.9 L520.0 152.6 L520.5 153.0 L520.9 153.3 L521.4 151.5 L521.8 160.7 L522.3 150.3 L522.7 149.8 L523.2 148.0 L523.6 146.9 L524.1 146.6 L524.5 147.9 L525.0 144.5 L525.4 146.6 L525.8 146.6 L526.3 146.3 L526.7 146.5 L527.1 145.2 L527.5 146.3 L527.9 142.2 L528.4 142.3 L528.8 141.2 L529.2 140.7 L529.6 140.0 L530.0 137.0 L530.4 142.0 L530.8 141.3 L531.2 140.7 L531.6 140.2 L532.0 140.3 L532.4 153.1 L532.8 137.4 L533.2 136.5 L533.6 136.3 L534.0 136.4 L534.4 136.2 L534.7 135.7 L535.1 133.4 L535.5 136.7 L535.9 136.4 L536.3 135.1 L536.6 134.7 L537.0 135.1 L537.4 138.1 L537.7 133.1 L538.1 131.7 L538.5 131.4 L538.8 131.8 L539.2 131.6 L539.5 126.6 L539.9 130.9 L540.3 131.3 L540.6 131.8 L541.0 131.0 L541.3 129.6 L541.7 138.5 L542.0 128.8 L542.4 127.6 L542.7 125.5 L543.0 125.5 L543.4 125.8 L543.7 126.6 L544.1 123.4 L544.4 125.8 L544.7 126.1 L545.1 126.8 L545.4 125.6 L545.7 124.2 L546.1 126.7 L546.4 122.7 L546.7 122.7 L547.0 121.5 L547.3 120.4 L547.7 121.1 L548.0 118.0 L548.3 121.7 L548.6 121.0 L548.9 120.5 L549.3 121.7 L549.6 121.6 L549.9 131.0 L550.2 118.3 L550.5 117.9 L550.8 117.5 L551.1 117.6 L551.4 116.5 L551.7 116.6 L552.0 115.0 L552.3 118.4 L552.6 118.0 L552.9 117.1 L553.2 117.2 L553.5 116.6 L553.8 116.6 L554.1 114.4 L554.4 113.0 L554.7 113.8 L555.0 114.0 L555.3 112.8 L555.6 108.9 L555.9 113.5 L556.1 114.3 L556.4 114.3 L556.7 113.3 L557.0 112.4 L557.3 120.4 L557.6 112.2 L557.8 110.6 L558.1 109.6 L558.4 109.7 L558.7 110.2 L558.9 111.0 L559.2 107.1 L559.5 110.2 L559.8 111.2 L560.0 111.7 L560.3 110.2 L560.6 109.6 L560.8 110.1 L561.1 109.0 L561.4 107.5 L561.6 106.7 L561.9 106.2 L562.2 107.5 L562.4 104.7 L562.7 108.3 L563.0 107.5 L563.2 108.5 L563.5 109.0 L563.7 107.9 L564.0 114.0 L564.2 105.4 L564.5 105.9 L564.8 105.7 L565.0 104.3 L565.3 103.4 L565.5 104.8 L565.8 102.7 L566.0 105.5 L566.3 105.3 L566.5 105.2 L566.8 105.2 L567.0 105.5 L567.3 107.6 L567.5 102.1 L567.7 101.6 L568.0 102.1 L568.2 102.6 L568.5 101.2 L568.7 98.1 L569.0 103.5 L569.2 103.9 L569.4 102.9 L569.7 102.8 L569.9 102.2 L570.1 112.6 L570.4 101.8 L570.6 99.4 L570.8 98.5 L571.1 99.3 L571.3 99.5 L571.5 99.6 L571.8 96.7 L572.0 100.0 L572.2 101.8 L572.5 101.6 L572.7 99.3 L572.9 99.1 L573.2 100.9 L573.4 99.1 L573.6 96.9 L573.8 95.8 L574.1 96.1 L574.3 98.3 L574.5 93.7 L574.7 97.6 L574.9 97.8 L575.2 99.1 L575.4 99.3 L575.6 98.1 L575.8 103.9 L576.0 95.7 L576.3 96.1 L576.5 95.0 L576.7 93.7 L576.9 94.0 L577.1 95.3 L577.3 93.7 L577.6 96.4 L577.8 95.7 L578.0 95.6 L578.2 96.4 L578.4 95.8 L578.6 98.5 L578.8 93.0 L579.0 92.6 L579.2 93.5 L579.5 92.2 L579.7 91.9 L579.9 89.2 L580.1 94.6 L580.3 94.7 L580.5 94.4 L580.7 93.4 L580.9 93.8 L581.1 108.5 L581.3 91.7 L581.5 90.7 L581.7 89.7 L581.9 91.4 L582.1 91.1 L582.3 90.2 L582.5 87.9 L582.7 92.6 L582.9 93.7 L583.1 91.9 L583.3 91.1 L583.5 91.1 L583.7 93.2 L583.9 89.6 L584.1 88.3 L584.3 88.0 L584.5 88.0 L584.7 89.0 L584.9 85.5 L585.1 89.3 L585.3 90.2 L585.4 90.6 L585.6 91.1 L585.8 89.8 L586.0 105.2 L586.2 87.7 L586.4 88.4 L586.6 86.1 L586.8 85.6 L587.0 86.7 L587.2 87.9 L587.3 85.1 L587.5 87.3 L587.7 88.3 L587.9 88.4 L588.1 89.1 L588.3 87.3 L588.5 86.6 L588.6 84.7 L588.8 85.1 L589.0 84.8 L589.2 83.2 L589.4 83.4 L589.6 81.7 L589.7 87.1 L589.9 87.0 L590.1 85.4 L590.3 86.2 L590.5 86.5 L590.6 98.2 L590.8 84.2 L591.0 82.4 L591.2 82.4 L591.3 83.6 L591.5 82.1 L591.7 82.4 L591.9 81.0 L592.1 85.8 L592.2 85.5 L592.4 84.5 L592.6 83.5 L592.7 84.2 L592.9 85.2 L593.1 81.9 L593.3 79.8 L593.4 80.1 L593.6 81.3 L593.8 81.9 L594.0 76.6 L594.1 81.9 L594.3 83.5 L594.5 83.5 L594.6 83.2 L594.8 81.0 L595.0 88.8 L595.1 81.1 L595.3 80.8 L595.5 78.5 L595.6 77.9 L595.8 79.8 L596.0 79.8 L596.1 78.1 L596.3 79.5 L596.5 80.7 L596.6 82.9 L596.8 81.9 L597.0 79.4 L597.1 79.8 L597.3 79.0 L597.5 79.0 L597.6 76.7 L597.8 76.5 L597.9 77.1 L598.1 74.7 L598.3 79.3 L598.4 79.1 L598.6 78.9 L598.8 79.9 L598.9 79.6 L599.1 93.4 L599.2 76.8 L599.4 76.0 L599.6 77.1 L599.7 76.1 L599.9 75.2 L600.0 75.6 L600.2 75.2 L600.3 78.5 L600.5 77.6 L600.7 76.6 L600.8 77.2 L601.0 77.3 L601.1 80.7 L601.3 74.9 L601.4 72.8 L601.6 74.2 L601.7 75.4 L601.9 74.5 L602.0 70.0 L602.2 75.5 L602.4 76.7 L602.5 76.8 L602.7 75.4 L602.8 75.0 L603.0 86.2 L603.1 74.5 L603.3 72.7 L603.4 71.2 L603.6 71.5 L603.7 73.1 L603.9 73.3 L604.0 70.7 L604.2 73.1 L604.3 76.1 L604.5 76.0 L604.6 75.5 L604.8 73.4 L604.9 75.8" stroke="#00ffff" stroke-width="1.3" stroke-dasharray="5 2 1 1.7"/>
<path d="M146.9 386.5 L198.0 374.5 L227.9 368.1 L249.1 364.7 L265.5 362.2 L278.9 353.7 L290.3 357.0 L300.1 354.8 L308.8 352.9 L316.6 350.6 L323.6 348.8 L330.0 348.4 L335.9 347.5 L341.4 345.2 L346.5 344.2 L351.2 343.3 L355.7 342.4 L359.9 341.6 L363.9 335.7 L367.7 338.8 L371.3 337.1 L374.7 335.5 L378.0 333.9 L381.1 332.4 L384.1 334.6 L387.0 331.0 L389.8 328.5 L392.5 326.3 L395.1 324.2 L397.6 322.1 L400.0 320.1 L402.3 318.2 L404.6 314.9 L406.8 311.6 L408.9 308.5 L411.0 305.4 L413.0 307.2 L415.0 301.0 L416.9 298.5 L418.8 296.0 L420.6 293.6 L422.4 291.3 L424.1 288.6 L425.8 286.0 L427.4 283.4 L429.1 280.9 L430.6 279.3 L432.2 277.7 L433.7 276.2 L435.2 274.6 L436.7 273.2 L438.1 271.7 L439.5 270.3 L440.9 268.9 L442.2 267.5 L443.6 284.5 L444.9 263.7 L446.1 261.6 L447.4 259.6 L448.6 257.6 L449.9 255.6 L451.1 253.7 L452.2 251.8 L453.4 249.9 L454.5 248.1 L455.7 246.3 L456.8 244.5 L457.9 243.3 L458.9 242.0 L460.0 240.8 L461.0 239.7 L462.1 238.5 L463.1 237.3 L464.1 236.2 L465.1 235.1 L466.1 234.0 L467.0 232.9 L468.0 234.5 L468.9 236.1 L469.8 237.7 L470.8 239.3 L471.7 234.7 L472.6 230.2 L473.4 225.8 L474.3 221.4 L475.2 221.2 L476.0 220.4 L476.9 218.7 L477.7 217.3 L478.5 215.9 L479.3 216.6 L480.1 215.3 L480.9 215.2 L481.7 213.4 L482.5 213.6 L483.3 211.6 L484.0 212.1 L484.8 211.1 L485.5 209.6 L486.3 206.0 L487.0 207.5 L487.7 205.0 L488.5 204.6 L489.2 203.9 L489.9 201.3 L490.6 204.8 L491.3 199.8 L492.0 198.9 L492.6 196.5 L493.3 194.6 L494.0 195.1 L494.6 194.7 L495.3 193.4 L495.9 192.1 L496.6 191.9 L497.2 192.5 L497.9 191.2 L498.5 192.4 L499.1 191.1 L499.7 189.7 L500.3 190.4 L500.9 189.3 L501.5 190.3 L502.1 189.8 L502.7 185.9 L503.3 188.3 L503.9 187.4 L504.5 186.7 L505.1 186.1 L505.6 182.8 L506.2 186.1 L506.7 182.1 L507.3 180.4 L507.9 180.1 L508.4 178.0 L508.9 178.9 L509.5 177.1 L510.0 175.1 L510.6 175.5 L511.1 174.4 L511.6 173.9 L512.1 174.4 L512.6 173.4 L513.2 173.3 L513.7 174.7 L514.2 174.1 L514.7 172.2 L515.2 173.9 L515.7 171.4 L516.2 168.8 L516.7 170.2 L517.1 170.0 L517.6 170.2 L518.1 170.0 L518.6 169.2 L519.1 168.7 L519.5 169.7 L520.0 168.4 L520.5 167.1 L520.9 165.9 L521.4 164.9 L521.8 165.1 L522.3 160.1 L522.7 163.0 L523.2 162.7 L523.6 163.2 L524.1 163.6 L524.5 162.5 L525.0 179.8 L525.4 161.7 L525.8 161.4 L526.3 160.4 L526.7 158.3 L527.1 157.0 L527.5 155.5 L527.9 156.7 L528.4 156.0 L528.8 155.7 L529.2 155.6 L529.6 156.1 L530.0 155.8 L530.4 155.1 L530.8 154.1 L531.2 153.9 L531.6 153.3 L532.0 152.0 L532.4 150.0 L532.8 146.4 L533.2 150.6 L533.6 150.0 L534.0 149.0 L534.4 149.2 L534.7 149.9 L535.1 160.4 L535.5 148.6 L535.9 147.8 L536.3 146.8 L536.6 146.8 L537.0 145.9 L537.4 142.2 L537.7 143.2 L538.1 144.0 L538.5 144.0 L538.8 143.5 L539.2 143.1 L539.5 143.8 L539.9 144.3 L540.3 142.8 L540.6 140.9 L541.0 140.3 L541.3 139.7 L541.7 139.1 L542.0 135.0 L542.4 137.0 L542.7 138.0 L543.0 138.5 L543.4 138.9 L543.7 138.1 L544.1 146.9 L544.4 138.3 L544.7 137.5 L545.1 135.7 L545.4 134.5 L545.7 134.1 L546.1 131.7 L546.4 133.0 L546.7 131.7 L547.0 132.0 L547.3 132.9 L547.7 133.8 L548.0 133.1 L548.3 131.8 L548.6 132.2 L548.9 131.6 L549.3 130.4 L549.6 129.1 L549.9 128.1 L550.2 125.3 L550.5 128.6 L550.8 128.0 L551.1 127.0 L551.4 128.5 L551.7 128.7 L552.0 144.6 L552.3 127.9 L552.6 127.2 L552.9 126.6 L553.2 126.2 L553.5 124.7 L553.8 119.3 L554.1 123.8 L554.4 124.4 L554.7 123.9 L555.0 123.7 L555.3 123.6 L555.6 136.7 L555.9 124.3 L556.1 123.8 L556.4 122.6 L556.7 121.5 L557.0 122.1 L557.3 118.1 L557.6 119.5 L557.8 118.7 L558.1 120.4 L558.4 120.5 L558.7 120.6 L558.9 119.3 L559.2 119.9 L559.5 121.1 L559.8 120.0 L560.0 118.1 L560.3 116.6 L560.6 116.8 L560.8 113.2 L561.1 115.3 L561.4 115.7 L561.6 116.2 L561.9 117.6 L562.2 117.4 L562.4 128.6 L562.7 116.5 L563.0 116.2 L563.2 116.3 L563.5 114.5 L563.7 113.0 L564.0 110.3 L564.2 112.6 L564.5 112.7 L564.8 111.4 L565.0 112.2 L565.3 113.1 L565.5 113.9 L565.8 113.0 L566.0 112.5 L566.3 112.3 L566.5 112.0 L566.8 110.8 L567.0 109.4 L567.3 105.6 L567.5 109.2 L567.7 109.3 L568.0 108.9 L568.2 108.6 L568.5 110.0 L568.7 128.3 L569.0 110.1 L569.2 108.9 L569.4 108.1 L569.7 108.2 L569.9 107.6 L570.1 104.7 L570.4 105.1 L570.6 105.7 L570.8 106.8 L571.1 106.8 L571.3 106.5 L571.5 106.3 L571.8 107.6 L572.0 108.0 L572.2 105.6 L572.5 104.7 L572.7 104.0 L572.9 103.7 L573.2 99.2 L573.4 102.3 L573.6 101.5 L573.8 103.5 L574.1 103.7 L574.3 103.6 L574.5 112.7 L574.7 104.1 L574.9 103.9 L575.2 103.2 L575.4 101.8 L575.6 100.1 L575.8 98.5 L576.0 100.7 L576.3 100.0 L576.5 98.7 L576.7 100.4 L576.9 101.2 L577.1 101.2 L577.3 101.3 L577.6 99.9 L577.8 101.4 L578.0 100.7 L578.2 98.8 L578.4 97.3 L578.6 93.7 L578.8 97.4 L579.0 97.4 L579.2 96.5 L579.5 97.8 L579.7 99.2 L579.9 116.4 L580.1 98.7 L580.3 97.1 L580.5 97.7 L580.7 97.6 L580.9 96.7 L581.1 92.5 L581.3 94.0 L581.5 95.1 L581.7 94.9 L581.9 95.2 L582.1 94.3 L582.3 95.8 L582.5 96.6 L582.7 97.0 L582.9 94.2 L583.1 94.4 L583.3 94.5 L583.5 93.4 L583.7 88.9 L583.9 90.5 L584.1 91.4 L584.3 92.6 L584.5 92.9 L584.7 92.3 L584.9 110.4 L585.1 94.3 L585.3 93.9 L585.4 92.0 L585.6 90.7 L585.8 90.1 L586.0 89.3 L586.2 89.8 L586.4 88.9 L586.6 89.2 L586.8 90.9 L587.0 91.7 L587.2 90.9 L587.3 90.2 L587.5 91.6 L587.7 91.1 L587.9 90.2 L588.1 88.6 L588.3 87.3 L588.5 84.8 L588.6 88.3 L588.8 87.1 L589.0 86.3 L589.2 88.3 L589.4 89.7 L589.6 107.8 L589.7 88.8 L589.9 88.5 L590.1 88.4 L590.3 88.3 L590.5 86.5 L590.6 82.0 L590.8 85.2 L591.0 86.1 L591.2 86.1 L591.3 84.9 L591.5 85.4 L591.7 86.8 L591.9 87.7 L592.1 87.2 L592.2 85.2 L592.4 84.5 L592.6 84.9 L592.7 83.3 L592.9 78.8 L593.1 82.2 L593.3 83.8 L593.4 83.6 L593.6 83.6 L593.8 83.1 L594.0 103.7 L594.1 85.8 L594.3 85.6 L594.5 83.0 L594.6 82.4 L594.8 82.1 L595.0 79.6 L595.1 81.0 L595.3 80.0 L595.5 80.8 L595.6 82.8 L595.8 82.8 L596.0 82.4 L596.1 81.6 L596.3 82.6 L596.5 82.4 L596.6 81.1 L596.8 79.5 L597.0 78.5 L597.1 75.9 L597.3 78.3 L597.5 78.1 L597.6 78.8 L597.8 79.7 L597.9 82.0 L598.1 96.1 L598.3 79.7 L598.4 79.7 L598.6 80.8 L598.8 79.7 L598.9 76.4 L599.1 73.6 L599.2 77.0 L599.4 77.8 L599.6 77.0 L599.7 76.4 L599.9 77.4 L600.0 79.8 L600.2 79.4 L600.3 78.5 L600.5 77.5 L600.7 78.0 L600.8 77.7 L601.0 75.2 L601.1 70.7 L601.3 73.8 L601.4 74.7 L601.6 76.2 L601.7 74.5 L601.9 76.5 L602.0 90.6 L602.2 77.6 L602.4 76.7 L602.5 74.6 L602.7 74.7 L602.8 74.0 L603.0 71.9 L603.1 71.5 L603.3 72.2 L603.4 72.8 L603.6 74.8 L603.7 74.2 L603.9 73.8 L604.0 74.3 L604.2 76.0 L604.3 75.4 L604.5 72.1 L604.6 71.5 L604.8 71.1 L604.9 68.9" stroke="#ffff00" stroke-width="1.3" stroke-dasharray="3.2 2 1.2 2.2"/>
<path d="M146.9 386.5 L198.0 374.5 L227.9 368.1 L249.1 364.7 L265.5 362.2 L278.9 353.7 L290.3 357.0 L300.1 354.8 L308.8 352.9 L316.6 350.6 L323.6 348.8 L330.0 348.4 L335.9 347.5 L341.4 345.2 L346.5 344.2 L351.2 343.3 L355.7 342.4 L359.9 341.6 L363.9 335.4 L367.7 339.2 L371.3 338.1 L374.7 337.0 L378.0 337.0 L381.1 337.0 L384.1 379.3 L387.0 335.7 L389.8 335.0 L392.5 334.4 L395.1 333.8 L397.6 333.2 L400.0 327.7 L402.3 332.2 L404.6 331.7 L406.8 331.2 L408.9 330.8 L411.0 330.3 L413.0 329.9 L415.0 329.5 L416.9 329.0 L418.8 328.6 L420.6 328.3 L422.4 327.9 L424.1 327.5 L425.8 322.1 L427.4 326.8 L429.1 326.5 L430.6 326.1 L432.2 325.8 L433.7 325.5 L435.2 368.2 L436.7 324.9 L438.1 324.6 L439.5 324.4 L440.9 324.0 L442.2 323.8 L443.6 318.5 L444.9 323.1 L446.1 322.9 L447.4 322.6 L448.6 322.4 L449.9 322.0 L451.1 321.8 L452.2 321.6 L453.4 321.5 L454.5 321.0 L455.7 320.8 L456.8 320.7 L457.9 320.5 L458.9 315.2 L460.0 319.9 L461.0 319.9 L462.1 319.4 L463.1 319.4 L464.1 319.0 L465.1 361.8 L466.1 318.5 L467.0 318.4 L468.0 318.3 L468.9 317.9 L469.8 317.9 L470.8 312.7 L471.7 317.4 L472.6 317.3 L473.4 316.9 L474.3 316.7 L475.2 316.6 L476.0 316.6 L476.9 316.3 L477.7 316.1 L478.5 316.0 L479.3 315.8 L480.1 315.6 L480.9 315.6 L481.7 310.4 L482.5 315.0 L483.3 315.0 L484.0 314.8 L484.8 314.8 L485.5 314.6 L486.3 357.2 L487.0 314.3 L487.7 313.8 L488.5 313.8 L489.2 313.8 L489.9 313.4 L490.6 308.4 L491.3 313.0 L492.0 313.2 L492.6 313.1 L493.3 312.8 L494.0 312.8 L494.6 312.4 L495.3 312.5 L495.9 312.3 L496.6 312.1 L497.2 311.9 L497.9 312.0 L498.5 311.9 L499.1 306.5 L499.7 311.5 L500.3 311.1 L500.9 311.3 L501.5 311.1 L502.1 311.1 L502.7 353.9 L503.3 310.5 L503.9 310.5 L504.5 310.5 L505.1 310.0 L505.6 310.1 L506.2 304.9 L506.7 309.7 L507.3 309.6 L507.9 309.8 L508.4 309.3 L508.9 309.3 L509.5 309.3 L510.0 309.4 L510.6 308.9 L511.1 308.9 L511.6 308.9 L512.1 309.0 L512.6 308.8 L513.2 303.7 L513.7 308.3 L514.2 308.3 L514.7 308.1 L515.2 308.3 L515.7 308.3 L516.2 350.7 L516.7 307.6 L517.1 307.5 L517.6 307.4 L518.1 307.5 L518.6 307.4 L519.1 302.1 L519.5 306.8 L520.0 307.0 L520.5 306.9 L520.9 306.9 L521.4 307.1 L521.8 306.8 L522.3 306.6 L522.7 306.5 L523.2 306.5 L523.6 306.0 L524.1 306.4 L524.5 306.3 L525.0 301.2 L525.4 306.1 L525.8 305.7 L526.3 305.6 L526.7 305.3 L527.1 305.6 L527.5 348.1 L527.9 305.0 L528.4 305.1 L528.8 304.9 L529.2 305.0 L529.6 304.7 L530.0 299.5 L530.4 304.6 L530.8 304.4 L531.2 304.5 L531.6 304.2 L532.0 304.7 L532.4 304.5 L532.8 304.0 L533.2 304.0 L533.6 304.0 L534.0 303.9 L534.4 303.7 L534.7 304.2 L535.1 299.2 L535.5 303.7 L535.9 303.6 L536.3 303.2 L536.6 303.2 L537.0 303.3 L537.4 346.1 L537.7 303.5 L538.1 302.9 L538.5 302.7 L538.8 303.4 L539.2 303.0 L539.5 297.6 L539.9 302.8 L540.3 302.3 L540.6 302.6 L541.0 302.9 L541.3 302.8 L541.7 302.6 L542.0 302.1 L542.4 302.1 L542.7 301.9 L543.0 302.3 L543.4 302.1 L543.7 302.2 L544.1 296.7 L544.4 301.6 L544.7 302.0 L545.1 302.1 L545.4 301.9 L545.7 301.8 L546.1 344.7 L546.4 301.6 L546.7 301.1 L547.0 301.3 L547.3 301.0 L547.7 300.7 L548.0 295.6 L548.3 300.8 L548.6 300.7 L548.9 301.0 L549.3 301.2 L549.6 300.6 L549.9 301.0 L550.2 301.0 L550.5 300.9 L550.8 300.3 L551.1 300.1 L551.4 300.0 L551.7 299.9 L552.0 294.9 L552.3 300.2 L552.6 300.4 L552.9 300.3 L553.2 299.9 L553.5 300.0 L553.8 343.1 L554.1 299.3 L554.4 299.8 L554.7 300.0 L555.0 299.8 L555.3 299.7 L555.6 294.4 L555.9 299.0 L556.1 299.6 L556.4 299.1 L556.7 299.5 L557.0 299.6 L557.3 298.9 L557.6 298.9 L557.8 299.4 L558.1 299.1 L558.4 298.5 L558.7 298.3 L558.9 298.3 L559.2 294.1 L559.5 298.9 L559.8 298.1 L560.0 298.8 L560.3 298.9 L560.6 298.5 L560.8 341.1 L561.1 298.3 L561.4 297.8 L561.6 297.6 L561.9 298.6 L562.2 298.2 L562.4 293.0 L562.7 298.4 L563.0 297.7 L563.2 298.2 L563.5 298.1 L563.7 297.3 L564.0 297.3 L564.2 297.3 L564.5 297.2 L564.8 297.5 L565.0 297.1 L565.3 297.2 L565.5 296.8 L565.8 292.7 L566.0 297.0 L566.3 297.1 L566.5 297.2 L566.8 297.5 L567.0 296.9 L567.3 340.4 L567.5 296.8 L567.7 296.8 L568.0 296.8 L568.2 296.1 L568.5 296.6 L568.7 291.2 L569.0 295.9 L569.2 296.8 L569.4 296.0 L569.7 296.3 L569.9 296.6 L570.1 296.3 L570.4 296.0 L570.6 296.2 L570.8 296.2 L571.1 296.4 L571.3 295.5 L571.5 296.0 L571.8 290.6 L572.0 295.6 L572.2 296.2 L572.5 295.8 L572.7 295.8 L572.9 296.0 L573.2 339.2 L573.4 295.5 L573.6 295.7 L573.8 295.5 L574.1 295.4 L574.3 295.6 L574.5 290.3 L574.7 295.3 L574.9 295.2 L575.2 295.8 L575.4 295.4 L575.6 295.6 L575.8 295.6 L576.0 294.7 L576.3 295.0 L576.5 295.5 L576.7 295.3 L576.9 294.3 L577.1 294.3 L577.3 289.6 L577.6 294.1 L577.8 294.3 L578.0 294.0 L578.2 294.8 L578.4 294.9 L578.6 338.0 L578.8 293.9 L579.0 294.7 L579.2 294.5 L579.5 293.8 L579.7 294.8 L579.9 289.8 L580.1 293.7 L580.3 294.7 L580.5 293.9 L580.7 294.0 L580.9 294.7 L581.1 294.4 L581.3 293.4 L581.5 293.7 L581.7 293.8 L581.9 293.5 L582.1 293.3 L582.3 293.4 L582.5 288.9 L582.7 292.9 L582.9 293.6 L583.1 293.4 L583.3 292.7 L583.5 293.1 L583.7 336.5 L583.9 293.3 L584.1 292.6 L584.3 294.0 L584.5 293.6 L584.7 293.9 L584.9 287.5 L585.1 292.7 L585.3 292.3 L585.4 293.4 L585.6 292.6 L585.8 292.3 L586.0 292.7 L586.2 293.5 L586.4 293.3 L586.6 292.4 L586.8 292.1 L587.0 293.3 L587.2 292.7 L587.3 287.9 L587.5 291.9 L587.7 291.8 L587.9 292.8 L588.1 292.3 L588.3 291.7 L588.5 336.0 L588.6 292.5 L588.8 292.7 L589.0 291.5 L589.2 292.8 L589.4 291.4 L589.6 287.7 L589.7 292.0 L589.9 291.8 L590.1 292.1 L590.3 292.6 L590.5 291.5 L590.6 291.3 L590.8 291.9 L591.0 291.4 L591.2 291.1 L591.3 291.2 L591.5 290.9 L591.7 291.1 L591.9 286.3 L592.1 291.2 L592.2 292.0 L592.4 291.1 L592.6 291.5 L592.7 290.9 L592.9 334.1 L593.1 290.5 L593.3 290.9 L593.4 290.4 L593.6 291.6 L593.8 291.3 L594.0 285.6 L594.1 291.1 L594.3 291.8 L594.5 290.4 L594.6 291.6 L594.8 290.9 L595.0 290.9 L595.1 291.5 L595.3 290.7 L595.5 290.8 L595.6 291.1 L595.8 291.6 L596.0 290.4 L596.1 286.3 L596.3 291.0 L596.5 290.9 L596.6 290.4 L596.8 290.3 L597.0 289.7 L597.1 332.8 L597.3 289.7 L597.5 290.8 L597.6 289.9 L597.8 289.7 L597.9 289.5 L598.1 285.9 L598.3 290.9 L598.4 290.5 L598.6 289.8 L598.8 289.6 L598.9 289.7 L599.1 290.0 L599.2 289.4 L599.4 289.9 L599.6 289.5 L599.7 290.8 L599.9 290.8 L600.0 289.9 L600.2 284.3 L600.3 290.7 L600.5 289.4 L600.7 289.4 L600.8 288.7 L601.0 289.4 L601.1 332.6 L601.3 289.6 L601.4 289.0 L601.6 289.5 L601.7 288.5 L601.9 289.0 L602.0 283.6 L602.2 289.2 L602.4 288.5 L602.5 288.4 L602.7 288.9 L602.8 288.7 L603.0 289.4 L603.1 289.2 L603.3 289.6 L603.4 289.4 L603.6 289.5 L603.7 289.8 L603.9 288.8 L604.0 283.6 L604.2 289.9 L604.3 288.2 L604.5 289.3 L604.6 289.1 L604.8 287.9 L604.9 332.5" stroke="#000000" stroke-width="0.72" stroke-dasharray="2 3.2"/>
<path d="M139.0 47.85 L173.9 47.85" stroke="#ff0000" stroke-width="1.15"/>
<path d="M139.0 59.96 L173.9 59.96" stroke="#00ff00" stroke-width="1.25" stroke-dasharray="3.7 1.5"/>
<path d="M140.0 72.07 L172.4 72.07" stroke="#0000ff" stroke-width="1.3" stroke-dasharray="1.6 1.85"/>
<g filter="url(#soft)"><g shape-rendering="crispEdges"><path d="M139.0 84.18 L173.9 84.18" stroke="#ff00ff" stroke-width="1" stroke-dasharray="0.95 0.95"/></g></g>
<path d="M139.0 96.29 L173.9 96.29" stroke="#00ffff" stroke-width="1.05" stroke-dasharray="5 2 1 1.7"/>
<path d="M139.0 108.40 L173.9 108.40" stroke="#ffff00" stroke-width="1.05" stroke-dasharray="3.2 2 1.2 2.2"/>
<path d="M139.0 120.51 L173.9 120.51" stroke="#000000" stroke-width="0.72" stroke-dasharray="2 3.2"/>
</g>
<path d="M604.9 36.35 V397.1" fill="none" stroke="#000" stroke-width="1.25"/>
<g font-family="Liberation Sans, sans-serif" font-size="12.07px" fill="#000" filter="url(#txt)">
<text x="349.8" y="22.3" text-anchor="middle">wave equation: dt=2.0e-6, dT=4.0e-3, DT=2.0e-1, PS + ProjH</text>
<text x="88.2" y="40.6" text-anchor="end">1</text>
<text x="88.2" y="76.7" text-anchor="end">0.1</text>
<text x="88.2" y="112.8" text-anchor="end">0.01</text>
<text x="88.2" y="148.9" text-anchor="end">0.001</text>
<text x="88.2" y="185.0" text-anchor="end">0.0001</text>
<text x="88.2" y="221.0" text-anchor="end">1e-05</text>
<text x="88.2" y="257.1" text-anchor="end">1e-06</text>
<text x="88.2" y="293.2" text-anchor="end">1e-07</text>
<text x="88.2" y="329.3" text-anchor="end">1e-08</text>
<text x="88.2" y="365.3" text-anchor="end">1e-09</text>
<text x="88.2" y="401.4" text-anchor="end">1e-10</text>
<text x="97.5" y="413.6" text-anchor="middle">0.1</text>
<text x="267.2" y="413.6" text-anchor="middle">1</text>
<text x="436.9" y="413.6" text-anchor="middle">10</text>
<text x="606.6" y="413.6" text-anchor="middle">100</text>
<text x="350.2" y="431.6" text-anchor="middle">time</text>
<text transform="translate(27.4 216.6) rotate(-90)" text-anchor="middle">error of solution, exact one: dt=2.0e-7</text>
<text x="112.2" y="52.0">k=0</text>
<text x="112.2" y="64.1">k=1</text>
<text x="112.2" y="76.2">k=2</text>
<text x="112.2" y="88.2">k=3</text>
<text x="112.2" y="100.3">k=4</text>
<text x="112.2" y="112.4">k=5</text>
<text x="112.2" y="124.5">fine</text>
</g>
</svg>
</body></html>
